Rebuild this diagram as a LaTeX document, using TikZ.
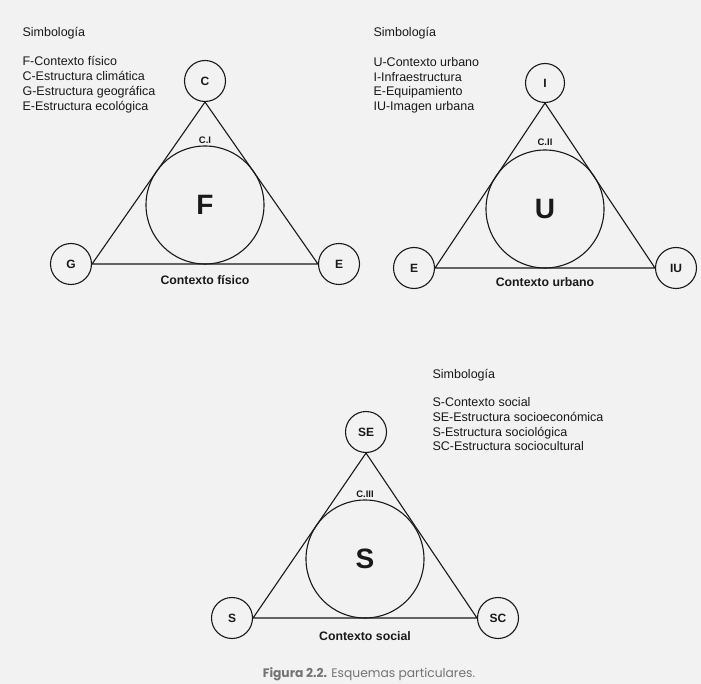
\documentclass[tikz,border=0pt]{standalone}
\usepackage{fontspec}
\setmainfont{Liberation Sans}
\newfontfamily\capfont{Poppins}
\definecolor{paper}{gray}{0.95}
\definecolor{ink}{gray}{0.1}

\begin{document}
\begin{tikzpicture}[x=1pt,y=-1pt,line width=1.1pt,
  vtx/.style={circle,draw=ink,minimum size=41pt,inner sep=0pt,text=ink,font=\fontsize{12}{12}\selectfont\bfseries},
  hub/.style={circle,draw=ink,minimum size=118pt,inner sep=0pt,text=ink,font=\fontsize{28}{28}\selectfont\bfseries},
  tag/.style={text=ink,font=\fontsize{9.5}{10}\selectfont\bfseries},
  ctx/.style={anchor=base,text=ink,font=\fontsize{12.3}{12}\selectfont\bfseries},
  legend/.style={anchor=base west,inner sep=0pt,text=ink,font=\fontsize{12.5}{15}\selectfont}]
\fill[paper] (0,0) rectangle (701,684);
\useasboundingbox (0,0) rectangle (701,684);

\node[legend] (t1) at (22,37) {Simbología};
\foreach \t [count=\i] in {F-Contexto físico,C-Estructura climática,G-Estructura geográfica,E-Estructura ecológica}
  \node[legend] (l1-\i) at (22,51+15*\i) {\t};
\node[vtx] (c1) at (205,81) {C}; \node[vtx] (g1) at (71,264) {G}; \node[vtx] (e1) at (339,264) {E};
\draw[ink] (c1.south)--(g1.east)--(e1.west)--cycle;
\node[hub] (f1) at (205,205) {F};
\node[tag] (k1) at (205,140) {C.I};
\node[ctx] (x1) at (205,285) {Contexto físico};

\node[legend] (t2) at (373,37) {Simbología};
\foreach \t [count=\i] in {U-Contexto urbano,I-Infraestructura,E-Equipamiento,IU-Imagen urbana}
  \node[legend] (l2-\i) at (373,52.5+14.5*\i) {\t};
\node[vtx,minimum size=39pt] (i2) at (545,83) {I}; \node[vtx] (e2) at (414,268) {E}; \node[vtx] (iu2) at (676,268) {IU};
\draw[ink] (i2.south)--(e2.east)--(iu2.west)--cycle;
\node[hub] (u2) at (545,209) {U};
\node[tag] (k2) at (545,142) {C.II};
\node[ctx] (x2) at (545,287) {Contexto urbano};

\node[legend] (t3) at (432,378) {Simbología};
\foreach \t [count=\i] in {S-Contexto social,SE-Estructura socioeconómica,S-Estructura sociológica,SC-Estructura sociocultural}
  \node[legend] (l3-\i) at (432,392+14.7*\i) {\t};
\node[vtx] (se3) at (366,432) {SE}; \node[vtx] (s3) at (232,618) {S}; \node[vtx] (sc3) at (498,618) {SC};
\draw[ink] (se3.south)--(s3.east)--(sc3.west)--cycle;
\node[hub] (m3) at (365,559) {S};
\node[tag] (k3) at (365,494) {C.III};
\node[ctx] (x3) at (365,640) {Contexto social};

\node[anchor=base,text=black!55,font=\capfont\fontsize{12.3}{12}\selectfont] (fig) at (369,677) {\textbf{Figura 2.2.} Esquemas particulares.};
\end{tikzpicture}
\end{document}
